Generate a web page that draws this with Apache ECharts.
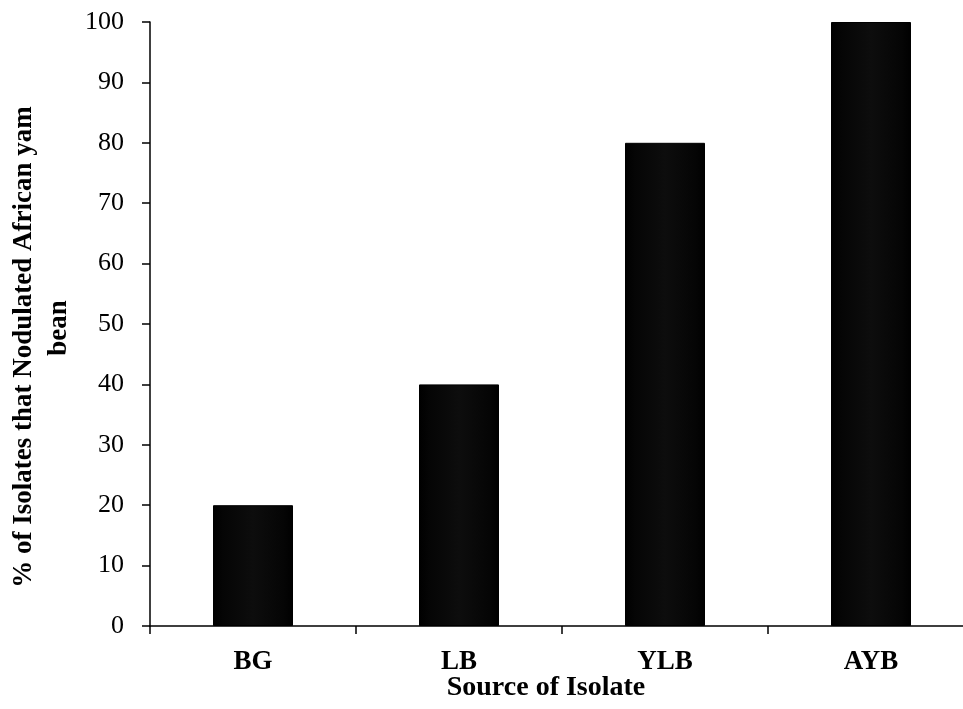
<!DOCTYPE html>
<html>
<head>
<meta charset="utf-8">
<script src="https://cdn.jsdelivr.net/npm/echarts@6/dist/echarts.min.js"></script>
<style>
  html, body { margin: 0; padding: 0; background: #fff; }
  #chart { width: 963px; height: 709px; }
</style>
</head>
<body>
<div id="chart"></div>
<script>
// data
var categories = ['BG', 'LB', 'YLB', 'AYB'];
var percentNodulated = [20, 40, 80, 100];
var yTitleLine1 = '% of Isolates that Nodulated African yam';
var yTitleLine2 = 'bean';
var xTitle = 'Source of Isolate';

var myChart = echarts.init(document.getElementById('chart'));
var serif = '"Liberation Serif", "Times New Roman", serif';

// bevelled black bar look
var barColor = new echarts.graphic.LinearGradient(0, 0, 1, 0, [
  { offset: 0, color: '#000' },
  { offset: 0.12, color: '#050505' },
  { offset: 0.5, color: '#0d0d0d' },
  { offset: 0.88, color: '#050505' },
  { offset: 1, color: '#000' }
]);

var option = {
  backgroundColor: '#fff',
  animation: false,
  grid: { left: 150, width: 824, top: 22, bottom: 83, containLabel: false, outerBoundsMode: 'none' },
  xAxis: {
    type: 'category',
    data: categories,
    boundaryGap: true,
    axisLine: { lineStyle: { color: '#000', width: 1.5 } },
    axisTick: { show: true, length: 8, lineStyle: { color: '#000', width: 1.5 } },
    axisLabel: {
      color: '#000', fontFamily: serif, fontWeight: 'bold', fontSize: 27, margin: 23
    }
  },
  yAxis: {
    type: 'value',
    min: 0,
    max: 100,
    interval: 10,
    splitLine: { show: false },
    axisLine: { show: true, lineStyle: { color: '#000', width: 1.5 } },
    axisTick: { show: true, length: 8, lineStyle: { color: '#000', width: 1.5 } },
    axisLabel: { color: '#000', fontFamily: serif, fontSize: 26, margin: 26 }
  },
  graphic: [
    {
      type: 'text',
      x: 24,
      y: 347,
      rotation: Math.PI / 2,
      style: {
        text: yTitleLine1, x: 0, y: 0, align: 'center', verticalAlign: 'middle',
        fill: '#000', font: 'bold 27px ' + serif
      }
    },
    {
      type: 'text',
      x: 59,
      y: 328,
      rotation: Math.PI / 2,
      style: {
        text: yTitleLine2, x: 0, y: 0, align: 'center', verticalAlign: 'middle',
        fill: '#000', font: 'bold 27px ' + serif
      }
    },
    {
      type: 'text',
      style: {
        text: xTitle, x: 546, y: 688, align: 'center', verticalAlign: 'middle',
        fill: '#000', font: 'bold 28px ' + serif
      }
    }
  ],
  series: [{
    type: 'bar',
    data: percentNodulated,
    barWidth: 80,
    itemStyle: { color: barColor, borderColor: '#000', borderWidth: 1 }
  }]
};
myChart.setOption(option);
</script>
</body>
</html>
